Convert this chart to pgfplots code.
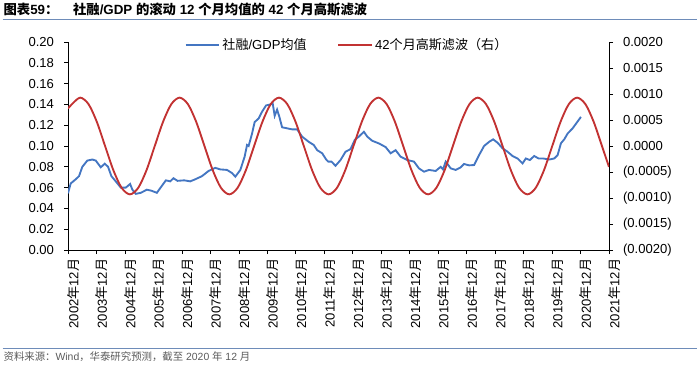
\documentclass[border=0pt]{standalone}
\usepackage{fontspec}
\setmainfont{Liberation Sans}
\newfontfamily\cjk{Noto Sans CJK SC}
\usepackage{pgfplots}
\pgfplotsset{compat=1.18}
\definecolor{lblue}{RGB}{68,118,194}
\definecolor{lred}{RGB}{194,50,50}
\definecolor{rulec}{RGB}{110,140,185}
\definecolor{foot}{RGB}{90,90,90}
\newcommand\zh[1]{{\cjk #1}}
\newcommand\ym[1]{#1\zh{年}12\zh{月}}
\pgfplotsset{
  common/.style={
    at={(51pt,89.25pt)}, anchor=south west,
    scale only axis, width=405.75pt, height=156pt,
    xmin=0, xmax=19,
    tick align=outside, major tick length=3pt,
    tick style={black, line width=0.5pt},
    axis line style={black, line width=0.5pt},
    /pgf/number format/assume math mode=true,
    tick label style={font=\fontsize{9.8}{11}\selectfont},
  }
}
\begin{document}
\begin{tikzpicture}
\path[use as bounding box] (0,0) rectangle (524.25pt,276.75pt);
\node[anchor=west, inner sep=0pt, font=\bfseries\fontsize{10}{12}\selectfont] at (2.5pt,269.25pt)
  {\zh{图表}59\zh{：}\hspace{1.1em}\zh{社融}/GDP \zh{的滚动} 12 \zh{个月均值的} 42 \zh{个月高斯滤波}};
\draw[rulec, line width=0.7pt] (2pt,262.5pt) -- (523pt,262.5pt);
\draw[rulec, line width=0.7pt] (2pt,15.75pt) -- (523pt,15.75pt);
\node[anchor=west, inner sep=0pt, text=foot, font=\fontsize{7.8}{9}\selectfont] at (2.5pt,9pt)
  {\zh{资料来源：}Wind\zh{，华泰研究预测，截至} 2020 \zh{年} 12 \zh{月}};

\begin{axis}[common,
  ymin=0, ymax=0.2,
  axis x line*=bottom, axis y line*=left,
  xtick={0,1,2,3,4,5,6,7,8,9,10,11,12,13,14,15,16,17,18,19},
  xticklabels={\ym{2002},\ym{2003},\ym{2004},\ym{2005},\ym{2006},\ym{2007},\ym{2008},\ym{2009},\ym{2010},\ym{2011},\ym{2012},\ym{2013},\ym{2014},\ym{2015},\ym{2016},\ym{2017},\ym{2018},\ym{2019},\ym{2020},\ym{2021}},
  xticklabel style={rotate=90, anchor=east, yshift=-4pt},
  ytick={0,0.02,0.04,0.06,0.08,0.1,0.12,0.14,0.16,0.18,0.2},
  yticklabel style={/pgf/number format/fixed, /pgf/number format/fixed zerofill, /pgf/number format/precision=2, xshift=-4pt},
  legend style={at={(0.215,0.985)}, anchor=west, draw=none, fill=none,
     font=\fontsize{9.8}{11}\selectfont, inner sep=0pt,
     /tikz/every even column/.append style={column sep=21pt}},
  legend columns=2,
  legend image code/.code={\draw[#1] (0pt,0pt) -- (25pt,0pt);},
]
\addplot[lblue, line width=1.4pt] coordinates {
(0.000,0.0545) (0.095,0.064) (0.271,0.068) (0.387,0.071) (0.503,0.080) (0.679,0.086)
(0.855,0.087) (0.975,0.086) (1.151,0.0795) (1.291,0.083) (1.407,0.080) (1.524,0.071)
(1.678,0.066) (1.854,0.060) (2.030,0.060) (2.182,0.0635) (2.262,0.058) (2.382,0.054)
(2.558,0.055) (2.769,0.058) (2.931,0.057) (3.121,0.055) (3.318,0.0625) (3.438,0.067)
(3.589,0.066) (3.705,0.069) (3.846,0.0665) (4.082,0.067) (4.293,0.066) (4.469,0.068)
(4.704,0.071) (4.937,0.076) (5.172,0.079) (5.348,0.0775) (5.584,0.077) (5.760,0.074)
(5.876,0.0705) (6.052,0.077) (6.203,0.0897) (6.288,0.101) (6.344,0.100) (6.464,0.112)
(6.555,0.123) (6.696,0.1265) (6.816,0.133) (6.956,0.139) (7.108,0.140) (7.189,0.141)
(7.259,0.129) (7.343,0.135) (7.424,0.128) (7.519,0.118) (7.695,0.117) (7.871,0.116)
(8.047,0.116) (8.223,0.109) (8.455,0.104) (8.631,0.101) (8.751,0.096) (8.927,0.093)
(9.067,0.087) (9.138,0.085) (9.254,0.085) (9.395,0.081) (9.571,0.0865) (9.747,0.0945)
(9.923,0.097) (10.074,0.106) (10.215,0.109) (10.391,0.1137) (10.510,0.109) (10.686,0.105)
(10.918,0.1025) (11.154,0.099) (11.330,0.093) (11.506,0.096) (11.682,0.0897) (11.918,0.0865)
(12.150,0.085) (12.326,0.0785) (12.502,0.0753) (12.678,0.077) (12.913,0.076) (13.089,0.080)
(13.170,0.0775) (13.265,0.085) (13.441,0.0785) (13.617,0.077) (13.793,0.0795) (13.909,0.0827)
(14.085,0.0814) (14.261,0.0817) (14.437,0.0913) (14.613,0.100) (14.789,0.104) (14.930,0.1064)
(15.085,0.1032) (15.260,0.0978) (15.436,0.0945) (15.612,0.0904) (15.788,0.088) (15.964,0.0833)
(16.080,0.088) (16.221,0.0865) (16.372,0.0904) (16.527,0.088) (16.689,0.088) (16.900,0.087)
(17.076,0.088) (17.196,0.0913) (17.312,0.1026) (17.428,0.1064) (17.547,0.112) (17.723,0.117)
(18.015,0.128)
};
\addlegendentry{\zh{社融}/GDP\zh{均值}}
\addlegendimage{lred, line width=1.4pt}
\addlegendentry{42\zh{个月高斯滤波（右）}}
\end{axis}

\begin{axis}[common,
  ymin=-0.002, ymax=0.002,
  axis y line*=right, axis x line=none,
  ytick={-0.002,-0.0015,-0.001,-0.0005,0,0.0005,0.001,0.0015,0.002},
  yticklabels={(0.0020),(0.0015),(0.0010),(0.0005),0.0000,0.0005,0.0010,0.0015,0.0020},
  scaled y ticks=false,
  yticklabel style={xshift=4pt},
]
\addplot[lred, line width=1.4pt, smooth] coordinates {
(0.000,0.00072) (0.139,0.000805) (0.430,0.00093) (0.721,0.000805) (1.012,0.000465)
(1.302,0) (1.593,-0.000465) (1.884,-0.000805) (2.175,-0.00093) (2.466,-0.000805)
(2.757,-0.000465) (3.047,0) (3.338,0.000465) (3.629,0.000805) (3.920,0.00093)
(4.211,0.000805) (4.502,0.000465) (4.792,0) (5.083,-0.000465) (5.374,-0.000805)
(5.665,-0.00093) (5.956,-0.000805) (6.247,-0.000465) (6.537,0) (6.828,0.000465)
(7.119,0.000805) (7.410,0.00093) (7.701,0.000805) (7.992,0.000465) (8.282,0)
(8.573,-0.000465) (8.864,-0.000805) (9.155,-0.00093) (9.446,-0.000805) (9.737,-0.000465)
(10.027,0) (10.318,0.000465) (10.609,0.000805) (10.900,0.00093) (11.191,0.000805)
(11.482,0.000465) (11.772,0) (12.063,-0.000465) (12.354,-0.000805) (12.645,-0.00093)
(12.936,-0.000805) (13.227,-0.000465) (13.517,0) (13.808,0.000465) (14.099,0.000805)
(14.390,0.00093) (14.681,0.000805) (14.972,0.000465) (15.262,0) (15.553,-0.000465)
(15.844,-0.000805) (16.135,-0.00093) (16.426,-0.000805) (16.717,-0.000465) (17.007,0)
(17.298,0.000465) (17.589,0.000805) (17.880,0.00093) (18.171,0.000805) (18.462,0.000465)
(18.752,0) (19.000,-0.000402)
};
\end{axis}
\end{tikzpicture}
\end{document}
